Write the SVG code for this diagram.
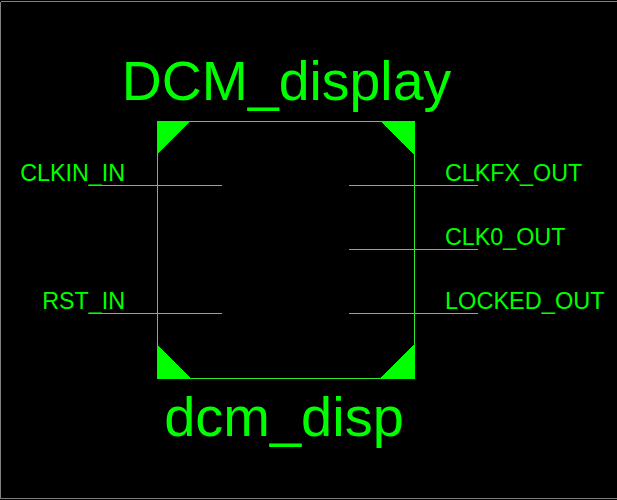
<svg xmlns="http://www.w3.org/2000/svg" width="617" height="500" viewBox="0 0 617 500">
<style>
.l{stroke:#32e632;stroke-width:1;fill:none;shape-rendering:crispEdges}
.c{fill:#00ff00;stroke:none;shape-rendering:crispEdges}
text{font-family:"Liberation Sans",Arial,sans-serif;fill:#00ff00}
.p{font-size:23.300px}
.t{font-size:55.400px}
</style>
<rect width="617" height="500" fill="#000"/>
<path d="M0.5 1.5H616.5M0.5 1.5V498.5H616.5" fill="none" stroke="#808080" shape-rendering="crispEdges"/>
<g id="frame">
<rect class="l" x="157.500" y="121.500" width="257" height="257"/>
<polygon class="c" points="157,121 190,121 157,154"/>
<polygon class="c" points="415,121 380,121 415,156"/>
<polygon class="c" points="157,379 191,379 157,345"/>
<polygon class="c" points="415,379 379,379 415,343"/>
</g>
<g id="connectors">
<path class="l" d="M94 185.500H222M94 313.500H222M349 185.500H478M349 249.500H478M349 313.500H478"/>
</g>
<g id="labels">
<text class="t" x="286.500" y="100" text-anchor="middle">DCM_display</text>
<text class="t" x="284" y="436" text-anchor="middle" style="font-size:56px">dcm_disp</text>
<text class="p" x="125" y="181" text-anchor="end">CLKIN_IN</text>
<text class="p" x="125" y="309" text-anchor="end">RST_IN</text>
<text class="p" x="445" y="181">CLKFX_OUT</text>
<text class="p" x="445" y="245">CLK0_OUT</text>
<text class="p" x="445" y="309" style="font-size:23.550px">LOCKED_OUT</text>
</g>
</svg>
